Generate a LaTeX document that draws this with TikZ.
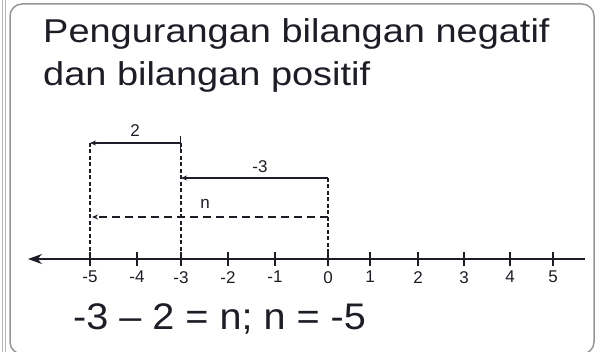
\documentclass[tikz,border=0pt]{standalone}
\usepackage{fontspec}
\setmainfont{Liberation Sans}
\newfontfamily\titlefont[FakeStretch=1.15, Ligatures=TeX]{Liberation Sans}
\newfontfamily\eqfont[FakeStretch=1.07, Ligatures=TeX]{Liberation Sans}
\usetikzlibrary{arrows.meta, positioning}
\definecolor{framegray}{RGB}{150,150,150}
\definecolor{inkdark}{RGB}{30,28,38}

\begin{document}
\begin{tikzpicture}[x=1pt, y=-1pt,
    tick/.style={inkdark, line width=1.4pt},
    lbl/.style={font=\fontsize{17}{17}\selectfont, inkdark, inner sep=1pt},
    title/.style={font=\titlefont\fontsize{33}{33}\selectfont, inkdark, inner sep=0pt},
    guide/.style={inkdark, line width=1.4pt, dash pattern=on 4pt off 2.5pt},
    longdash/.style={inkdark, line width=1.4pt, dash pattern=on 8pt off 5pt},
    move/.style={inkdark, line width=1.5pt, -{Stealth[length=6pt, width=5pt]}}]

    \useasboundingbox (0,0) rectangle (597,352);

    % Panel frames
    \draw[framegray!70, line width=1pt] (2,-2) -- (2,354) (5.5,-2) -- (5.5,354);
    \draw[framegray, line width=1.5pt, rounded corners=12pt] (10,4) rectangle (594,354);

    % Title
    \node[title, anchor=base west] (head1) at (43,43) {Pengurangan bilangan negatif};
    \node[title, anchor=base west] (head2) at (43,86) {dan bilangan positif};

    % Ticks and numbers
    \foreach \x [count=\i from 0] in {90,137,181,228,275,328,370,418,464,510,553}{
      \pgfmathtruncatemacro{\v}{\i-5}
      \coordinate (t\i) at (\x,259);
      \draw[tick] (\x,252) -- (\x,266);
      \node[lbl, anchor=north] (num\i) at (\x,270) {\v};
    }

    % Number line
    \coordinate (lend) at (28,259);
    \coordinate (rend) at (585,259);
    \draw[inkdark, line width=1.5pt, {Stealth[length=14pt, width=10pt]}-] (lend) -- (rend);

    % Moves
    \coordinate (twoS) at (181,143);
    \coordinate (twoE) at (90,143);
    \coordinate (negS) at (328,178);
    \coordinate (negE) at (181,178);
    \coordinate (nS) at (328,217);
    \coordinate (nE) at (92,217);

    \draw[guide] (twoE) -- (t0);
    \draw[guide] (twoS) -- (t2);
    \draw[guide] (negS) -- (t5);

    \draw[move, {Bar[width=13pt]}-{Stealth[length=6pt, width=5pt]}] (twoS) -- (twoE);
    \draw[move] (negS) -- (negE);
    \draw[longdash, -{Stealth[length=6pt, width=5pt]}] (nS) -- (nE);

    \node[lbl] (lbltwo) at (135,131) {2};
    \node[lbl] (lblneg) at (260,167) {-3};
    \node[lbl] (lbln) at (205,204) {n};

    % Equation
    \node[anchor=base west, font=\eqfont\fontsize{37}{37}\selectfont, inkdark, inner sep=0pt]
      (eq) at (73,330) {-3 -- 2 = n; n = -5};
\end{tikzpicture}
\end{document}
